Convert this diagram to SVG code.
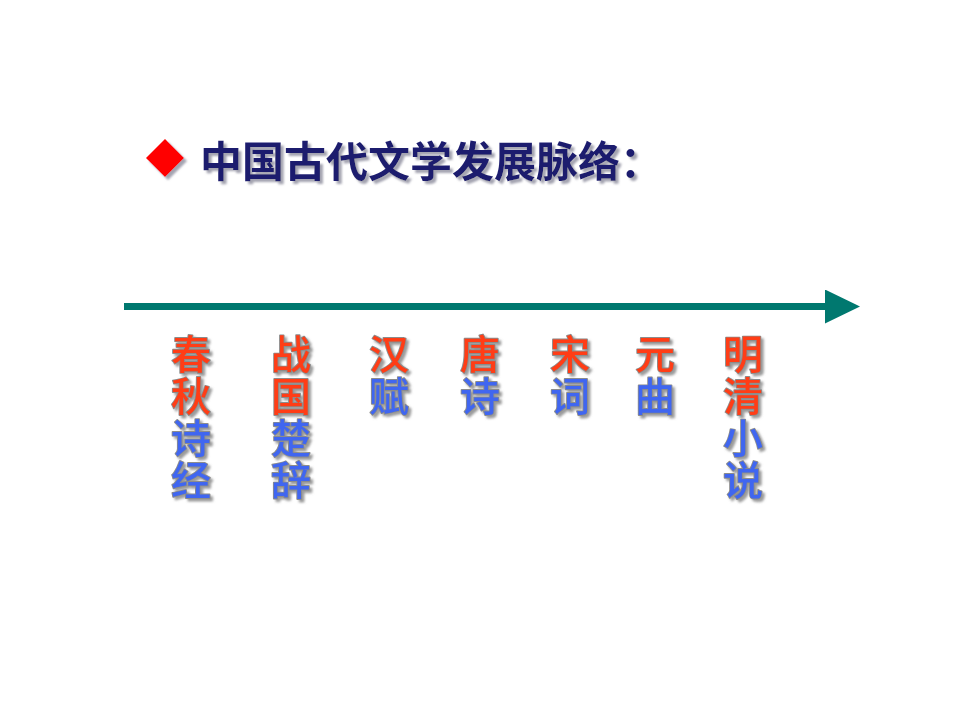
<svg xmlns="http://www.w3.org/2000/svg" width="960" height="720" viewBox="0 0 960 720">
<defs>
<style>
.title{font-family:"Noto Sans CJK SC","Noto Sans",sans-serif;font-size:42px;font-weight:700;fill:#1b1b6e}
.lbl{font-family:"Noto Sans CJK SC","Noto Sans",sans-serif;font-size:40px;font-weight:500;writing-mode:vertical-rl;letter-spacing:2px;stroke:#8c8c8c;stroke-width:1.8;paint-order:stroke;stroke-linejoin:round}
.r{fill:#ff3c14}
.b{fill:#3f66f0}
</style>
<filter id="shadow" x="-30%" y="-10%" width="160%" height="120%">
<feDropShadow dx="2.5" dy="2.5" stdDeviation="0.8" flood-color="#8a8a8a" flood-opacity="0.85"/>
</filter>
<filter id="tshadow" x="-10%" y="-20%" width="120%" height="140%">
<feDropShadow dx="3" dy="3" stdDeviation="0.8" flood-color="#9a9aa8" flood-opacity="0.9"/>
</filter>
<marker id="ah" markerUnits="userSpaceOnUse" markerWidth="36" markerHeight="36" refX="0" refY="17" orient="auto">
<polygon points="0,0 35,17 0,34" fill="#00786f"/>
</marker>
</defs>
<rect width="960" height="720" fill="#ffffff"/>
<g id="title" filter="url(#tshadow)">
<polygon points="165,139 184,158 165,177 146,158" fill="#ff0000"/>
<text class="title" x="200" y="177">中国古代文学发展脉络：</text>
</g>
<g id="connectors">
<line x1="124" y1="306.5" x2="825" y2="306.5" stroke="#00786f" stroke-width="7" marker-end="url(#ah)"/>
</g>
<g id="chunqiu-shijing" filter="url(#shadow)">
<text class="lbl" x="191" y="334"><tspan class="r">春秋</tspan><tspan class="b">诗经</tspan></text>
</g>
<g id="zhanguo-chuci" filter="url(#shadow)">
<text class="lbl" x="291" y="334"><tspan class="r">战国</tspan><tspan class="b">楚辞</tspan></text>
</g>
<g id="hanfu" filter="url(#shadow)">
<text class="lbl" x="389" y="334"><tspan class="r">汉</tspan><tspan class="b">赋</tspan></text>
</g>
<g id="tangshi" filter="url(#shadow)">
<text class="lbl" x="480" y="334"><tspan class="r">唐</tspan><tspan class="b">诗</tspan></text>
</g>
<g id="songci" filter="url(#shadow)">
<text class="lbl" x="570" y="334"><tspan class="r">宋</tspan><tspan class="b">词</tspan></text>
</g>
<g id="yuanqu" filter="url(#shadow)">
<text class="lbl" x="655" y="334"><tspan class="r">元</tspan><tspan class="b">曲</tspan></text>
</g>
<g id="mingqing-xiaoshuo" filter="url(#shadow)">
<text class="lbl" x="743" y="334"><tspan class="r">明清</tspan><tspan class="b">小说</tspan></text>
</g>
</svg>
